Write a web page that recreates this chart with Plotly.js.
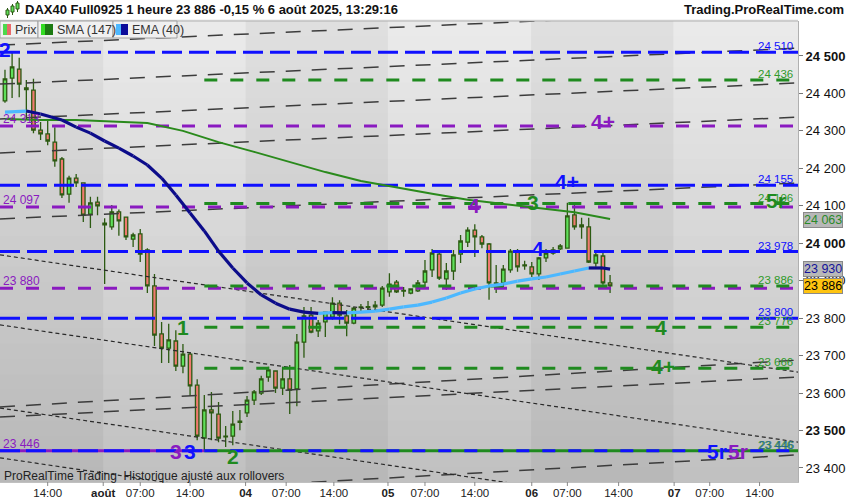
<!DOCTYPE html>
<html><head><meta charset="utf-8">
<script src="https://cdn.plot.ly/plotly-3.0.1.min.js"></script>
<style>html,body{margin:0;padding:0;background:#fff;}#chart{width:850px;height:500px;}</style>
</head><body><div id="chart"></div>
<script>
// ---------- data ----------
const openP  = [24380,24441,24465,24415,24409,24302,24292,24270,24225,24131,24174,24161,24078,24110,24054,24044,24084,24070,24011,24025,23982,23886,23758,23720,23739,23672,23704,23621,23480,23555,23544,23483,23485,23522,23547,23581,23600,23643,23659,23613,23638,23611,23736,23808,23766,23790,23803,23840,23806,23787,23828,23829,23830,23835,23870,23896,23872,23867,23873,23896,23929,23971,23905,23926,23971,24003,24035,24017,23998,23892,23894,23929,23979,23940,23937,23918,23961,23982,23985,23987,24076,24049,24044,23947,23966,23894];
const highP  = [24463,24508,24495,24436,24439,24324,24327,24310,24230,24180,24185,24161,24124,24124,24067,24102,24090,24070,24028,24038,23987,23918,23790,23785,23768,23731,23710,23637,23595,23603,23576,23512,23552,23555,23592,23608,23646,23670,23659,23670,23675,23758,23830,23830,23795,23816,23856,23848,23822,23830,23838,23846,23846,23886,23920,23902,23883,23880,23902,23955,23985,23977,23947,23982,24022,24043,24051,24022,24001,23942,23942,23985,23985,23953,23950,23963,23985,23990,23998,24108,24108,24068,24068,23982,23974,23915];
const lowP   = [24375,24388,24390,24330,24294,24276,24262,24204,24121,24108,24150,24057,24041,24075,23891,24036,24020,24009,23990,23950,23867,23726,23680,23680,23659,23653,23592,23474,23448,23474,23469,23456,23461,23501,23536,23568,23595,23630,23600,23595,23544,23565,23694,23760,23750,23750,23796,23784,23752,23784,23819,23822,23820,23830,23857,23867,23857,23864,23870,23883,23910,23902,23875,23902,23947,23990,23963,23987,23849,23867,23883,23921,23924,23929,23910,23902,23950,23969,23982,23987,24036,24012,23947,23937,23889,23867];
const closeP = [24439,24471,24425,24410,24302,24292,24273,24220,24129,24174,24161,24075,24108,24100,24049,24084,24060,24017,24022,23971,23886,23755,23720,23742,23672,23704,23619,23485,23555,23547,23480,23485,23517,23525,23581,23603,23638,23662,23613,23638,23608,23736,23806,23763,23787,23816,23840,23808,23787,23827,23830,23831,23835,23880,23891,23870,23874,23878,23894,23926,23974,23907,23926,23969,24006,24035,24017,23998,23894,23894,23931,23979,23937,23942,23918,23961,23974,23974,23993,24073,24044,24044,23950,23969,23894,23886];

const smaIdx = [0,5,10,15,20,25,30,35,40,45,50,55,60,65,70,75,80,85];
const smaVal = [24332,24329,24329,24326,24321,24300,24270,24244,24217,24190,24166,24148,24132,24116,24105,24094,24083,24065];

const emaIdx = [0,3,5,8,10,12,14,16,18,20,22,24,26,28,30,32,34,36,38,40,42,44,46,48,50,52,54,56,58,60,62,64,66,68,70,72,74,76,78,80,82,84,85];
const emaVal = [24350,24353,24345,24329,24310,24294,24273,24254,24233,24209,24174,24129,24081,24033,23979,23934,23894,23862,23840,23824,23816,23813,23815,23814,23816,23819,23824,23830,23835,23843,23854,23867,23878,23886,23891,23899,23905,23910,23918,23926,23934,23934,23931];

const blueLevels   = [24510, 24155, 23978, 23800];
const greenLevels  = [24436, 24106, 23886, 23776, 23666];
const purpleLevels = [24313, 24097, 23880];
const bottomLevel  = 23446;
const greenStart   = 28;          // bar where the green levels begin

// long-dash rising channel lines: [price at left edge, price at right edge]
const upLines = [[24529,24625],[24425,24521],[24332,24428],[24241,24337],[24065,24161],[23563,23688],[23536,23643],[23315,23435]];
// short-dash falling lines: [price at left edge, price at right edge]
const downLines = [[23969,23656],[23782,23469],[23560,23247],[23427,23114]];

const xTickVals = [6,13.8,19,26,33.8,39.5,46.2,53.8,59,66,74,79,86.2,94,99,106];
const xTickText = ['14:00','<b>août</b>','07:00','14:00','<b>04</b>','07:00','14:00','<b>05</b>','07:00','14:00','<b>06</b>','07:00','14:00','<b>07</b>','07:00','14:00'];
const priceTicks = [23400,23500,23600,23700,23800,23900,24000,24100,24200,24300,24400,24500];
const dayBounds = [13.8,33.8,53.8,73.9,93.9];

const lastSma = 24063, lastEma = 23930, lastPrice = 23886;

// ---------- layout helpers ----------
const X0 = -0.7, X1 = 111.4, Y0 = 23362.6, Y1 = 24593.4;
const PW = 798, PH = 461, TOP = 21;
const px = v => v / PW;
const py = v => 1 + (TOP - v) / PH;
const F = 'Liberation Sans, Arial, sans-serif';
const BLUE = '#1010ff', GREEN = '#1f8a1f', GTXT = '#2f9a2a', PURPLE = '#8a1ac0';
const fmt = v => String(v).replace(/\B(?=(\d{3})+(?!\d))/g, ' ');
const bars = openP.map((_, i) => i);

const traces = [];
traces.push({
  type:'candlestick', x:bars, open:openP, high:highP, low:lowP, close:closeP,
  increasing:{line:{color:'#2c5a12', width:1.3}, fillcolor:'#5fe05a'},
  decreasing:{line:{color:'#2c5a12', width:1.3}, fillcolor:'#f07a70'},
  whiskerwidth:0, hoverinfo:'skip', showlegend:false
});
function seg(xa, xb, ya, yb, color, dash, width){
  return {type:'scatter', mode:'lines', x:[xa,xb], y:[ya,yb], line:{color:color, dash:dash, width:width}, hoverinfo:'skip', showlegend:false};
}
upLines.forEach(l => traces.push(seg(X0, X1, l[0], l[1], '#3c3c3c', '15px,11px', 1.5)));
downLines.forEach(l => traces.push(seg(X0, X1, l[0], l[1], '#2a2a2a', '4px,3px', 1.2)));
purpleLevels.forEach(v => traces.push(seg(X0, X1, v, v, PURPLE, '13px,13px', 3)));
greenLevels.forEach(v => traces.push(seg(greenStart, X1, v, v, GREEN, '13px,13px', 3)));
blueLevels.forEach(v => traces.push(seg(X0, X1, v, v, BLUE, '20px,7px', 3)));
traces.push(seg(X0, greenStart, bottomLevel, bottomLevel, PURPLE, 'solid', 3));
traces.push(seg(greenStart, X1, bottomLevel, bottomLevel, GREEN, 'solid', 3));
traces.push(seg(X0, greenStart, bottomLevel, bottomLevel, BLUE, '20px,6px', 3));
traces.push(seg(greenStart, X1, bottomLevel, bottomLevel, BLUE, '13px,13px', 3));
traces.push({type:'scatter', mode:'lines', x:smaIdx, y:smaVal, line:{color:'#2a8a1c', width:2}, hoverinfo:'skip', showlegend:false});
// EMA coloured by direction
const up = {x:[], y:[]}, dn = {x:[], y:[]};
for (let k = 0; k < emaIdx.length - 1; k++){
  const t = emaVal[k+1] > emaVal[k] ? up : dn;
  t.x.push(emaIdx[k], emaIdx[k+1], null); t.y.push(emaVal[k], emaVal[k+1], null);
}
traces.push({type:'scatter', mode:'lines', x:up.x, y:up.y, line:{color:'#4cb8ff', width:3.2}, hoverinfo:'skip', showlegend:false, connectgaps:false});
traces.push({type:'scatter', mode:'lines', x:dn.x, y:dn.y, line:{color:'#0c0c8a', width:3.2}, hoverinfo:'skip', showlegend:false, connectgaps:false});

// ---------- shapes ----------
const shapes = [];
const N = 30;
for (let k = 0; k < N; k++){
  const t = k / (N - 1);
  const c = Math.round(193 + (234 - 193) * t);
  shapes.push({type:'rect', xref:'paper', yref:'paper', x0:0, x1:1, y0:k/N, y1:(k+1)/N + 0.003, fillcolor:`rgb(${c},${c},${c})`, line:{width:0}, layer:'below'});
}
const bandEdges = [X0].concat(dayBounds, [X1]);
for (let k = 0; k < bandEdges.length - 1; k += 2){
  shapes.push({type:'rect', xref:'x', yref:'paper', x0:bandEdges[k], x1:bandEdges[k+1], y0:0, y1:1, fillcolor:'rgba(0,0,0,0.045)', line:{width:0}, layer:'below'});
}
shapes.push({type:'line', xref:'paper', yref:'paper', x0:0, x1:1, y0:1, y1:1, line:{color:'#b0b0b0', width:1}});
// small tick marks on the time axis
xTickVals.forEach(v => shapes.push({type:'line', xref:'x', yref:'paper', x0:v, x1:v, y0:0, y1:-4/PH, line:{color:'#888', width:1}}));
// legend boxes
[[0,38],[38,113],[113,177]].forEach(b => shapes.push({type:'rect', xref:'paper', yref:'paper', x0:px(b[0]), x1:px(b[1]), y0:py(38), y1:py(21), fillcolor:'#f0f0f0', line:{color:'#a0a0a0', width:1}, layer:'above'}));
[[3,7,'#4cd94c'],[7,11,'#e86a6a'],[41,45,'#33dd22'],[45,53,'#1d7a12'],[116,121,'#4cb8ff'],[121,128,'#0c0c9a']].forEach(s =>
  shapes.push({type:'rect', xref:'paper', yref:'paper', x0:px(s[0]), x1:px(s[1]), y0:py(35), y1:py(24), fillcolor:s[2], line:{width:0}, layer:'above'}));
// header icon
[[6,9,10,15],[11,14,6,12],[16,19,3,9]].forEach(r => {
  shapes.push({type:'line', xref:'paper', yref:'paper', x0:px((r[0]+r[1])/2), x1:px((r[0]+r[1])/2), y0:py(r[3]+3), y1:py(r[2]-2), line:{color:'#2c5a12', width:1}});
  shapes.push({type:'rect', xref:'paper', yref:'paper', x0:px(r[0]), x1:px(r[1]), y0:py(r[3]), y1:py(r[2]), fillcolor:'#5fe05a', line:{color:'#2c5a12', width:1}});
});

// ---------- annotations ----------
const ann = [];
const txt = (o) => Object.assign({showarrow:false}, o);
ann.push(txt({xref:'paper', yref:'paper', x:px(23), y:py(10), xanchor:'left', yanchor:'middle', text:'DAX40 Full0925 1 heure 23 886 -0,15 % 6 août 2025, 13:29:16', font:{family:F, size:13, color:'#111', weight:700}}));
ann.push(txt({xref:'paper', yref:'paper', x:px(846), y:py(10), xanchor:'right', yanchor:'middle', text:'Trading.ProRealTime.com', font:{family:F, size:13, color:'#111', weight:700}}));
[['Prix',13],['SMA (147)',55],['EMA (40)',130]].forEach(l => ann.push(txt({xref:'paper', yref:'paper', x:px(l[1]), y:py(29.5), xanchor:'left', yanchor:'middle', text:l[0], font:{family:F, size:12.5, color:'#333'}})));
ann.push(txt({xref:'paper', yref:'paper', x:px(2), y:py(476), xanchor:'left', yanchor:'middle', text:'ProRealTime Trading  Historique ajusté aux rollovers', font:{family:F, size:12, color:'#222'}}));

const rightLabel = (v, color, shift) => txt({xref:'paper', yref:'y', x:1, y:v, xanchor:'right', yanchor:'bottom', xshift:-3 + (shift||0), yshift:-2, text:fmt(v), font:{family:F, size:11.5, color:color}});
blueLevels.forEach(v => ann.push(rightLabel(v, BLUE)));
greenLevels.forEach(v => ann.push(rightLabel(v, GTXT)));
ann.push(rightLabel(bottomLevel, GTXT));
ann.push(rightLabel(bottomLevel, '#2a6a8a', 1));
purpleLevels.concat([bottomLevel]).forEach(v => ann.push(txt({xref:'paper', yref:'y', x:0, y:v, xanchor:'left', yanchor:'bottom', xshift:1, yshift:-2, text:fmt(v), font:{family:F, size:12, color:PURPLE}})));

// wave markers: [text, bar position, price, colour]
const markers = [
  ['2', 0, 24516, BLUE], ['4+', 84, 24324, PURPLE], ['4+', 79, 24164, BLUE], ['3', 74.2, 24110, GREEN],
  ['4', 65.9, 24100, PURPLE], ['5r', 108.3, 24113, GREEN], ['4', 74.9, 23987, BLUE], ['1', 25, 23776, GREEN],
  ['4', 92.2, 23776, GREEN], ['4+', 92.4, 23670, GREEN], ['3', 24, 23443, PURPLE], ['3', 26, 23445, BLUE],
  ['2', 32, 23432, GREEN], ['5r', 100, 23443, BLUE], ['5r', 103, 23443, PURPLE]
];
markers.forEach(m => ann.push(txt({xref:'x', yref:'y', x:m[1], y:m[2], xanchor:'center', yanchor:'middle', text:m[0], font:{family:F, size:21, color:m[3], weight:700}})));

// last value boxes on the price axis
[[lastSma, '#b8b8b8', '#2a8a2a'], [lastEma, '#b8b8b8', '#14149a'], [lastPrice, '#ffc410', '#000']].forEach(b =>
  ann.push(txt({xref:'paper', yref:'y', x:1, y:b[0], xanchor:'left', yanchor:'middle', xshift:5, text:fmt(b[0]), bgcolor:b[1], bordercolor:'#8a8a8a', borderwidth:1, borderpad:0, font:{family:F, size:12.5, color:b[2]}})));

const layout = {
  width:850, height:500,
  margin:{l:0, r:52, t:21, b:18, pad:0},
  paper_bgcolor:'#ffffff', plot_bgcolor:'#d4d4d4',
  showlegend:false, hovermode:false, dragmode:false,
  xaxis:{range:[X0, X1], rangeslider:{visible:false}, showgrid:false, zeroline:false,
         tickmode:'array', tickvals:xTickVals, ticktext:xTickText, ticks:'', ticklen:0,
         tickfont:{family:F, size:11.5, color:'#222'}, showline:true, linecolor:'#c0c0c0', fixedrange:true},
  yaxis:{range:[Y0, Y1], side:'right', showgrid:false, zeroline:false,
         tickmode:'array', tickvals:priceTicks, ticktext:priceTicks.map(v => v % 500 === 0 ? '<b>' + fmt(v) + '</b>' : fmt(v)),
         ticks:'outside', ticklen:4, tickcolor:'#777', tickfont:{family:F, size:13, color:'#111'},
         showline:true, linecolor:'#b0b0b0', fixedrange:true},
  shapes:shapes, annotations:ann
};
Plotly.newPlot('chart', traces, layout, {staticPlot:true, displayModeBar:false});
</script></body></html>
